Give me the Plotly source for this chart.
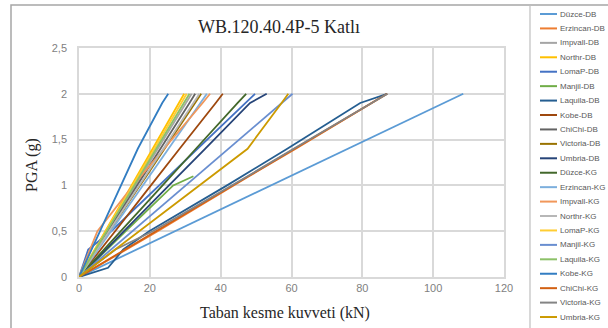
import plotly.graph_objects as go

pga = [0, 0.1, 0.3, 0.5, 1.0, 1.1, 1.4, 1.9, 2.0]

names = ["Düzce-DB", "Erzincan-DB", "Impvall-DB", "Northr-DB", "LomaP-DB", "Manjil-DB",
         "Laquila-DB", "Kobe-DB", "ChiChi-DB", "Victoria-DB", "Umbria-DB",
         "Düzce-KG", "Erzincan-KG", "Impvall-KG", "Northr-KG", "LomaP-KG", "Manjil-KG",
         "Laquila-KG", "Kobe-KG", "ChiChi-KG", "Victoria-KG", "Umbria-KG"]

colors = ["#5B9BD5", "#ED7D31", "#A5A5A5", "#FFC000", "#4472C4", "#70AD47",
          "#255E91", "#9E480E", "#636363", "#997300", "#264478",
          "#43682B", "#7CAFDD", "#F1975A", "#B7B7B7", "#FFCD33", "#698ED0",
          "#8CC168", "#327DC2", "#D26012", "#848484", "#CC9A00"]

duzce_db = [0, 5.4, 16.3, 27.1, 54.2, 59.7, 76.0, 103.1, 108.5]
erzincan_db = [0, 4.6, 13.4, 22.2, 43.6, 48.0, 61.2, 82.6, 87.0]
impvall_db = [0, 1.6, 4.8, 8.0, 15.9, 17.5, 22.3, 30.2, 31.8]
northr_db = [0, 1.5, 4.4, 7.4, 14.8, 16.3, 20.8, 28.2, 29.7]
lomap_db = [0, 0.9, 2.6, 9.1, 22.6, 25.3, 33.4, 47.2, 49.7]
manjil_db = [0, 2.6, 7.9, 13.2, 26.6, 32.3, None, None, None]
laquila_db = [0, 8.2, 12.5, 19.8, 41.8, 46.0, 58.8, 79.4, 87.0]
kobe_db = [0, 2.0, 6.1, 10.2, 20.3, 22.3, 28.4, 38.6, 40.6]
chichi_db = [0, 1.6, 4.9, 8.2, 16.4, 18.0, 23.0, 31.2, 32.8]
victoria_db = [0, 1.7, 5.2, 8.6, 17.2, 19.0, 24.1, 32.8, 34.5]
umbria_db = [0, 2.5, 7.6, 12.7, 25.4, 28.0, 35.6, 48.3, 53.0]
duzce_kg = [0, 2.4, 7.1, 11.8, 23.6, 26.0, 33.0, 44.8, 47.2]
erzincan_kg = [0, 1.8, 5.4, 9.0, 18.0, 19.8, 25.3, 34.3, 36.1]
impvall_kg = [0, 1.0, 3.0, 5.2, 15.3, 17.5, 24.0, 34.9, 37.0]
northr_kg = [0, 1.7, 5.1, 8.5, 17.0, 18.7, 23.8, 32.3, 34.0]
lomap_kg = [0, 1.5, 4.6, 7.6, 15.2, 16.7, 21.3, 28.9, 30.4]
manjil_kg = [0, 3.0, 9.0, 15.1, 30.1, 33.2, 42.2, 57.3, 60.3]
laquila_kg = [0, 1.6, 4.7, 7.8, 15.6, 17.2, 21.8, 29.6, 31.2]
kobe_kg = [0, 1.2, 3.6, 6.0, 12.0, 13.1, 16.6, 23.5, 25.2]
chichi_kg = [0, 4.3, 13.0, 21.7, 43.4, 47.8, 60.8, 82.4, 87.0]
victoria_kg = [0, 3.5, 10.3, 20.8, 43.2, 47.6, 60.6, 82.5, 87.1]
umbria_kg = [0, 3.4, 10.2, 17.0, 34.0, 37.4, 47.6, 57.2, 59.1]

series = [duzce_db, erzincan_db, impvall_db, northr_db, lomap_db, manjil_db,
          laquila_db, kobe_db, chichi_db, victoria_db, umbria_db,
          duzce_kg, erzincan_kg, impvall_kg, northr_kg, lomap_kg, manjil_kg,
          laquila_kg, kobe_kg, chichi_kg, victoria_kg, umbria_kg]

x_ticks = [0, 20, 40, 60, 80, 100, 120]
y_ticks = [0, 0.5, 1, 1.5, 2, 2.5]

W, H = 608, 328
L, R, T, B = 79, 104, 48, 51
pw = W - L - R
ph = H - T - B

def px_x(p):
    return (p - L) / pw

def px_y(p):
    return (H - B - p) / ph

fig = go.Figure()
for name, col, xs in zip(names, colors, series):
    fig.add_trace(go.Scatter(x=xs, y=pga, mode="lines", name=name,
                             line=dict(color=col, width=1.8), showlegend=False))

grid = "#d9d9d9"
fig.update_layout(
    width=W, height=H,
    margin=dict(l=L, r=R, t=T, b=B),
    paper_bgcolor="white", plot_bgcolor="white",
    separators=", ",
    xaxis=dict(range=[0, 120], tickvals=x_ticks, showgrid=True, gridcolor=grid, gridwidth=1.5,
               zeroline=False, showline=True, linecolor=grid, linewidth=1.5, mirror=True,
               ticks="", tickfont=dict(family="Liberation Sans", size=11, color="#7f7f7f")),
    yaxis=dict(range=[0, 2.5], tickvals=y_ticks, showgrid=True, gridcolor=grid, gridwidth=1.5,
               zeroline=False, showline=True, linecolor=grid, linewidth=1.5, mirror=True,
               ticks="", ticklabelstandoff=8,
               tickfont=dict(family="Liberation Sans", size=11, color="#7f7f7f")),
)

annotations = [
    dict(text="WB.120.40.4P-5 Katlı", x=px_x(279), y=px_y(27), xref="paper", yref="paper",
         showarrow=False, font=dict(family="Liberation Serif", size=18, color="#262626"),
         xanchor="center", yanchor="middle"),
    dict(text="PGA (g)", x=px_x(32), y=px_y(165), xref="paper", yref="paper", textangle=-90,
         showarrow=False, font=dict(family="Liberation Serif", size=16, color="#262626"),
         xanchor="center", yanchor="middle"),
    dict(text="Taban kesme kuvveti (kN)", x=px_x(285), y=px_y(313), xref="paper", yref="paper",
         showarrow=False, font=dict(family="Liberation Serif", size=16, color="#262626"),
         xanchor="center", yanchor="middle"),
]
shapes = [
    dict(type="rect", xref="paper", yref="paper", x0=px_x(11), x1=px_x(640), y0=px_y(5), y1=px_y(360),
         line=dict(color="#a6a6a6", width=1.5), layer="above"),
    dict(type="line", xref="paper", yref="paper", x0=px_x(530), x1=px_x(530), y0=px_y(5), y1=px_y(360),
         line=dict(color="#bfbfbf", width=1.2), layer="above"),
]

for i, (name, col) in enumerate(zip(names, colors)):
    py = 14 + 14.43 * i
    shapes.append(dict(type="line", xref="paper", yref="paper", x0=px_x(540), x1=px_x(557),
                       y0=px_y(py), y1=px_y(py), line=dict(color=col, width=2)))
    annotations.append(dict(text=name, x=px_x(558), y=px_y(py), xref="paper", yref="paper",
                            showarrow=False, xanchor="left", yanchor="middle",
                            font=dict(family="Liberation Sans", size=8, color="#595959")))

fig.update_layout(annotations=annotations, shapes=shapes)
fig.write_html("out.html", config={"displayModeBar": False},
               post_script="document.body.style.margin='0';document.body.style.overflow='hidden';")
